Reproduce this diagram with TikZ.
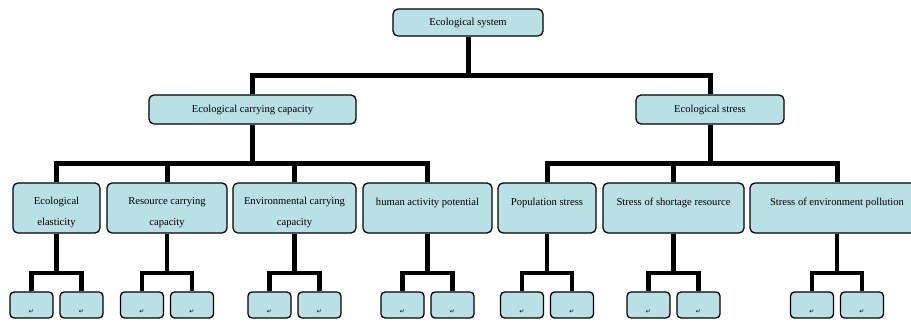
\documentclass[tikz,border=0pt]{standalone}
\usepackage{fontspec}
\setmainfont{Liberation Serif}
\newfontfamily\symfont{DejaVu Sans}
\usetikzlibrary{calc}
\definecolor{boxfill}{RGB}{185,224,228}
\newcommand\toplift{\rule{0pt}{17pt}}

\begin{document}
\begin{tikzpicture}[x=1pt, y=-1pt,
		box/.style={draw, line width=1.3pt, rounded corners=5pt, fill=boxfill, inner sep=2pt, align=center, font=\fontsize{10.6}{21}\selectfont},
		tallbox/.style={box, minimum height=50pt},
		link/.style={line width=5pt},
		sublink/.style={line width=4.5pt},
		leaf/.style={draw, line width=1.3pt, rounded corners=4pt, fill=boxfill, minimum width=43pt, minimum height=26pt, inner sep=0pt, text height=20pt, text depth=2pt, font=\symfont\fontsize{6}{6}\selectfont}]
		\useasboundingbox (0,0) rectangle (911,323);

		\node[box, minimum width=150pt, minimum height=27pt] (sys) at (468,22.5) {Ecological system};
		\node[box, minimum width=207pt, minimum height=29pt] (ecc) at (252.5,109.5) {Ecological carrying capacity};
		\node[box, minimum width=148pt, minimum height=29pt] (es) at (710,109.5) {Ecological stress};

		\node[tallbox, minimum width=87pt] (ee) at (56.5,208) {\toplift Ecological\\elasticity};
		\node[tallbox, minimum width=120pt] (rcc) at (167,208) {\toplift Resource carrying\\capacity};
		\node[tallbox, minimum width=123pt] (ecap) at (294.5,208) {\toplift Environmental carrying\\capacity};
		\node[tallbox, minimum width=129pt] (hap) at (427.5,208) {\toplift human activity potential\\\mbox{}};
		\node[tallbox, minimum width=98pt] (ps) at (547,208) {\toplift Population stress\\\mbox{}};
		\node[tallbox, minimum width=141pt] (ssr) at (673.5,208) {\toplift Stress of shortage resource\\\mbox{}};
		\node[tallbox, minimum width=174pt] (sep) at (837,208) {\toplift Stress of environment pollution\\\mbox{}};

		\coordinate (j0) at (468,76);
		\coordinate (j1) at (252.5,164);
		\coordinate (j2) at (710,164);

		\draw[link] (sys) -- (j0);
		\draw[link] (ecc) |- (j0) -| (es);
		\draw[link] (ecc) -- (j1);
		\draw[link] (ee) |- (j1) -| (hap);
		\draw[link] (j1) -| (rcc);
		\draw[link] (j1) -| (ecap);
		\draw[link] (es) -- (j2);
		\draw[link] (ps) |- (j2) -| (sep);
		\draw[link] (j2) -| (ssr);

		\coordinate (sub) at (0,273);
		\foreach \n in {ee,rcc,ecap,hap,ps,ssr,sep} {
			\coordinate (\n-j) at (\n.south |- sub);
			\node[leaf] (\n-a) at ($(\n-j)+(-25,32)$) {↵};
			\node[leaf] (\n-b) at ($(\n-j)+(25,32)$) {↵};
			\draw[sublink] (\n) -- (\n-j);
			\draw[sublink] (\n-a) |- (\n-j) -| (\n-b);
		}
	\end{tikzpicture}
\end{document}
